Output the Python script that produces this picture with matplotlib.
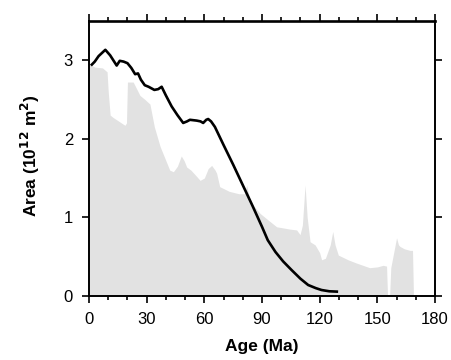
import matplotlib
matplotlib.use("Agg")
import matplotlib.pyplot as plt
from matplotlib.ticker import MultipleLocator

plt.rcParams['font.family'] = ['Liberation Sans', 'DejaVu Sans']

# Black curve: age (Ma) vs area (10^12 m^2)
line_age = [1, 3, 5, 8.5, 11, 14.4, 16, 18, 20, 22, 24, 25.5, 27, 29, 31, 34, 36, 37.8,
            40, 43, 46, 49, 51, 52.5, 56, 58, 59.4, 61, 62, 63.5, 65.5, 70, 75, 80, 85,
            90, 93, 97, 101, 105.4, 110, 114, 118, 121, 125, 129.6]
line_area = [2.93, 2.98, 3.05, 3.13, 3.06, 2.93, 2.99, 2.98, 2.96, 2.9, 2.82, 2.83, 2.75,
             2.68, 2.66, 2.62, 2.63, 2.66, 2.55, 2.41, 2.3, 2.2, 2.22, 2.24, 2.23, 2.22,
             2.2, 2.24, 2.25, 2.22, 2.15, 1.92, 1.67, 1.41, 1.15, 0.88, 0.71, 0.56, 0.44,
             0.33, 0.22, 0.14, 0.1, 0.076, 0.06, 0.055]

# Grey filled distribution
fill_age = [0, 3, 7, 9.4, 10, 11, 12.5, 15, 18.7, 19.5, 20, 23, 26.5, 29, 31.7, 34, 37,
            40, 42, 43.9, 46, 48, 49.5, 50.8, 53, 56, 57.8, 60, 62, 63.8, 65.6, 66.4, 68,
            73, 78, 81, 82, 83, 83.8, 89, 93, 97.6, 104.6, 108, 109.8, 111, 112.4, 113.5,
            115, 117.6, 120, 121, 123, 125.5, 126.8, 128, 129.7, 134.8, 139, 146, 150,
            153, 154.8, 155.3, 156.4, 157, 160, 161, 161.8, 164, 167, 168.3, 168.8]
fill_area = [2.95, 2.91, 2.9, 2.85, 2.6, 2.3, 2.27, 2.23, 2.17, 2.2, 2.72, 2.72, 2.55,
             2.5, 2.44, 2.15, 1.9, 1.72, 1.6, 1.58, 1.65, 1.78, 1.72, 1.64, 1.6, 1.52,
             1.47, 1.5, 1.62, 1.66, 1.6, 1.56, 1.39, 1.33, 1.3, 1.3, 1.41, 1.3, 1.2, 1.05,
             0.97, 0.88, 0.85, 0.84, 0.78, 0.9, 1.41, 1.0, 0.69, 0.65, 0.55, 0.46, 0.48,
             0.65, 0.82, 0.65, 0.52, 0.46, 0.42, 0.36, 0.37, 0.39, 0.38, 0, 0, 0.36, 0.74,
             0.65, 0.63, 0.6, 0.58, 0.58, 0]

xticks = [0, 30, 60, 90, 120, 150, 180]
yticks = [0, 1, 2, 3]

fig = plt.figure(figsize=(4.51, 3.60), dpi=100)
ax = fig.add_axes([89/451, 1 - 296/360, (435 - 89)/451, (296 - 20.7)/360])

ax.fill_between(fill_age, 0, fill_area, color='#e2e2e2', linewidth=0, zorder=1)
ax.plot(line_age, line_area, color='black', linewidth=1.9, zorder=3,
        solid_joinstyle='round', solid_capstyle='butt')

ax.set_xlim(0, 180)
ax.set_ylim(0, 3.5)
ax.set_xticks(xticks)
ax.set_yticks(yticks)
ax.xaxis.set_minor_locator(MultipleLocator(10))

for s in ['left', 'bottom', 'right']:
    ax.spines[s].set_linewidth(1.4)
ax.spines['top'].set_linewidth(1.9)

ax.tick_params(which='both', direction='out', top=True, right=True, width=1.2,
               labelsize=12)
ax.tick_params(axis='x', which='major', length=5, pad=6.5)
ax.tick_params(axis='y', which='major', length=5, pad=6.5)
ax.tick_params(which='minor', length=3.2)
ax.tick_params(axis='y', which='minor', left=False, right=False)

ax.set_xlabel('Age (Ma)', fontsize=12.5, fontweight='bold')
ax.set_ylabel('Area (10$^{\\mathbf{12}}$ m$^{\\mathbf{2}}$)', fontsize=12.5,
              fontweight='bold')
ax.xaxis.set_label_coords((262 - 89) / 346, -(347 - 296) / 275.3)
ax.yaxis.set_label_coords(-(89 - 30) / 346, (296 - 156) / 275.3)
ax.xaxis.label.set_verticalalignment('center')
ax.yaxis.label.set_verticalalignment('center')

fig.savefig('out.png', dpi=100)
